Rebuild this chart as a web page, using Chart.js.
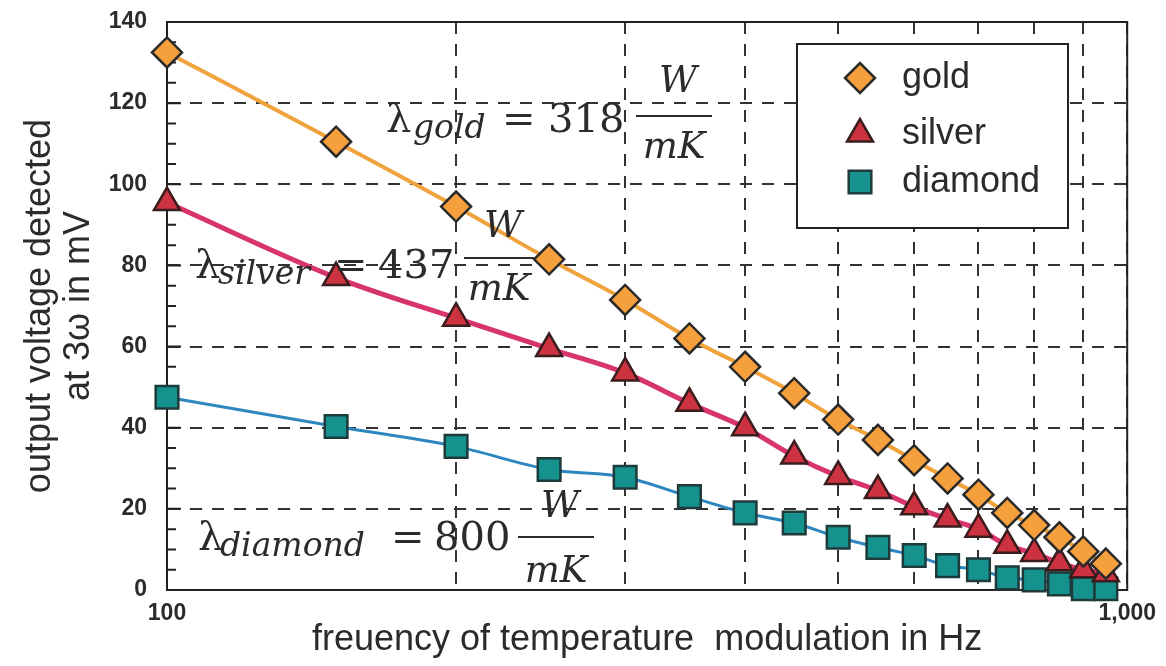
<!DOCTYPE html>
<html>
<head>
<meta charset="utf-8">
<script src="https://cdn.jsdelivr.net/npm/chart.js@4.4.0/dist/chart.umd.min.js"></script>
<style>
html, body { margin: 0; padding: 0; background: #fff; }
</style>
</head>
<body>
<canvas id="chartOne" width="1166" height="666"></canvas>
<script>
var frequencies = [100, 150, 200, 250, 300, 350, 400, 450, 500, 550, 600, 650, 700, 750, 800, 850, 900, 950];
var goldValues = [132.5, 110.5, 94.5, 81.5, 71.5, 62, 55, 48.5, 42, 37, 32, 27.5, 23.5, 19, 16, 13, 9.5, 6.5];
var silverValues = [95.5, 77, 67, 59.5, 53.5, 46, 40, 33, 28, 24.5, 20.5, 17.5, 15, 11, 9, 6.7, 5, 4];
var diamondValues = [47.5, 40.3, 35.4, 29.7, 27.8, 23, 19, 16.5, 13, 10.5, 8.5, 6, 5, 3, 2.5, 1.5, 0.3, 0.3];
var seriesNames = ['gold', 'silver', 'diamond'];
var conductivities = ['318', '437', '800'];
var yTicks = [0, 20, 40, 60, 80, 100, 120, 140];
var xTicks = [100, 200, 300, 400, 500, 600, 700, 800, 900, 1000];
var xTickLabels = { 100: '100', 1000: '1,000' };

var textColor = '#2b2b2b';
var chartOne = document.getElementById('chartOne');

const toPoints = (vals) => vals.map((v, i) => ({ x: frequencies[i], y: v }));

// box round the plot + small ticks on the left axis
const frame = {
    id: 'frame',
    beforeDatasetsDraw(chart) {
        const { ctx, chartArea: a } = chart;
        const y = chart.scales.y;
        ctx.save();
        ctx.strokeStyle = '#222';
        ctx.lineWidth = 2;
        ctx.strokeRect(a.left, a.top, a.right - a.left, a.bottom - a.top);
        ctx.beginPath();
        for (let v = 0; v <= 140; v += 5) {
            const py = y.getPixelForValue(v);
            const len = v % 20 == 0 ? 14 : 9;
            ctx.moveTo(a.left, py);
            ctx.lineTo(a.left + len, py);
        }
        ctx.stroke();
        ctx.restore();
    }
};

// legend drawn inside the plot, top right
const boxLegend = {
    id: 'boxLegend',
    afterDraw(chart) {
        const { ctx } = chart;
        const x0 = 797, y0 = 44, w = 271, h = 184;
        ctx.save();
        ctx.fillStyle = '#fff';
        ctx.fillRect(x0, y0, w, h);
        ctx.strokeStyle = '#222';
        ctx.lineWidth = 2;
        ctx.strokeRect(x0, y0, w, h);
        const rows = [78, 134, 182];
        chart.data.datasets.forEach((ds, i) => {
            ctx.fillStyle = ds.pointBackgroundColor;
            ctx.strokeStyle = ds.pointBorderColor;
            ctx.lineWidth = ds.pointBorderWidth;
            Chart.helpers.drawPoint(ctx, {
                pointStyle: ds.pointStyle,
                radius: ds.pointRadius,
                rotation: 0,
                borderWidth: ds.pointBorderWidth
            }, 860, rows[i]);
            ctx.fillStyle = textColor;
            ctx.font = '36px "Liberation Sans", Arial, sans-serif';
            ctx.textBaseline = 'middle';
            ctx.textAlign = 'left';
            ctx.fillText(ds.label, 902, rows[i]);
        });
        ctx.restore();
    }
};

// lambda = ... W/mK labels
const labelPos = [
    { lx: 386, by: 132, sx: 413, eq: 502, nx: 548, f1: 636, f2: 712, fy: 116, wy: 92, my: 158 },
    { lx: 195, by: 278, sx: 218, eq: 334, nx: 378, f1: 464, f2: 534, fy: 258, wy: 237, my: 300 },
    { lx: 198, by: 550, sx: 220, eq: 391, nx: 434, f1: 518, f2: 594, fy: 537, wy: 517, my: 582 }
];
const lambdas = {
    id: 'lambdas',
    afterDatasetsDraw(chart) {
        const { ctx } = chart;
        ctx.save();
        ctx.fillStyle = textColor;
        ctx.strokeStyle = textColor;
        ctx.textBaseline = 'alphabetic';
        labelPos.forEach((p, i) => {
            ctx.textAlign = 'left';
            ctx.font = '40px "DejaVu Serif", serif';
            ctx.fillText('λ', p.lx, p.by);
            ctx.fillText('=', p.eq, p.by);
            ctx.fillText(conductivities[i], p.nx, p.by);
            ctx.font = 'italic 33px "DejaVu Serif", serif';
            ctx.fillText(seriesNames[i], p.sx, p.by + 6);
            ctx.lineWidth = 2;
            ctx.beginPath();
            ctx.moveTo(p.f1, p.fy);
            ctx.lineTo(p.f2, p.fy);
            ctx.stroke();
            ctx.textAlign = 'center';
            ctx.font = 'italic 37px "DejaVu Serif", serif';
            const cx = (p.f1 + p.f2) / 2;
            ctx.fillText('W', cx + 4, p.wy);
            ctx.fillText('mK', cx, p.my);
        });
        ctx.restore();
    }
};

var myChart = new Chart(chartOne, {
    type: 'line',
    data: {
        datasets: [{
            label: seriesNames[0],
            data: toPoints(goldValues),
            borderColor: '#f0a33c',
            borderWidth: 4,
            pointStyle: 'rectRot',
            pointRadius: 15,
            pointBackgroundColor: '#f5a03c',
            pointBorderColor: '#2a2a2a',
            pointBorderWidth: 2.5,
            cubicInterpolationMode: 'monotone',
            clip: false
        }, {
            label: seriesNames[1],
            data: toPoints(silverValues),
            borderColor: '#d8346c',
            borderWidth: 5,
            pointStyle: 'triangle',
            pointRadius: 15,
            pointBackgroundColor: '#cc3240',
            pointBorderColor: '#3a1c1c',
            pointBorderWidth: 2.5,
            cubicInterpolationMode: 'monotone',
            clip: false
        }, {
            label: seriesNames[2],
            data: toPoints(diamondValues),
            borderColor: '#2e86c0',
            borderWidth: 3,
            pointStyle: 'rect',
            pointRadius: 16,
            pointBackgroundColor: '#15918e',
            pointBorderColor: '#1e3a3a',
            pointBorderWidth: 2.5,
            cubicInterpolationMode: 'monotone',
            clip: false
        }]
    },
    options: {
        responsive: false,
        animation: false,
        devicePixelRatio: 1,
        layout: { padding: { top: 22, right: 38, left: 0, bottom: 0 } },
        plugins: {
            legend: { display: false },
            tooltip: { enabled: false }
        },
        scales: {
            x: {
                type: 'logarithmic',
                min: 100,
                max: 1000,
                afterFit: (s) => { s.height = 76; },
                afterBuildTicks: (s) => { s.ticks = xTicks.map((v) => ({ value: v, major: true })); },
                grid: { color: '#333', lineWidth: 2, drawTicks: false },
                border: { display: true, color: '#222', width: 2, dash: [12, 10] },
                ticks: {
                    autoSkip: false,
                    maxRotation: 0,
                    padding: 10,
                    color: textColor,
                    font: { family: '"Liberation Sans", Arial, sans-serif', size: 23, weight: 'bold' },
                    callback: (v) => xTickLabels[v] || ''
                },
                title: {
                    display: true,
                    text: 'freuency of temperature  modulation in Hz',
                    color: textColor,
                    font: { family: '"Liberation Sans", Arial, sans-serif', size: 36 },
                    padding: { top: 0, bottom: 4 }
                }
            },
            y: {
                min: 0,
                max: 140,
                afterFit: (s) => { s.width = 167; },
                afterBuildTicks: (s) => { s.ticks = yTicks.map((v) => ({ value: v })); },
                grid: { color: '#333', lineWidth: 2, drawTicks: true, tickLength: 17, tickColor: 'rgba(0,0,0,0)' },
                border: { display: true, color: '#222', width: 2, dash: [12, 10] },
                ticks: {
                    padding: 3,
                    color: textColor,
                    font: { family: '"Liberation Sans", Arial, sans-serif', size: 23, weight: 'bold' }
                },
                title: {
                    display: true,
                    text: ['output voltage detected', 'at 3ω in mV'],
                    color: textColor,
                    font: { family: '"Liberation Sans", Arial, sans-serif', size: 36, lineHeight: 1.1 },
                    padding: { top: 20, bottom: 0 }
                }
            }
        }
    },
    plugins: [frame, lambdas, boxLegend]
});
</script>
</body>
</html>
